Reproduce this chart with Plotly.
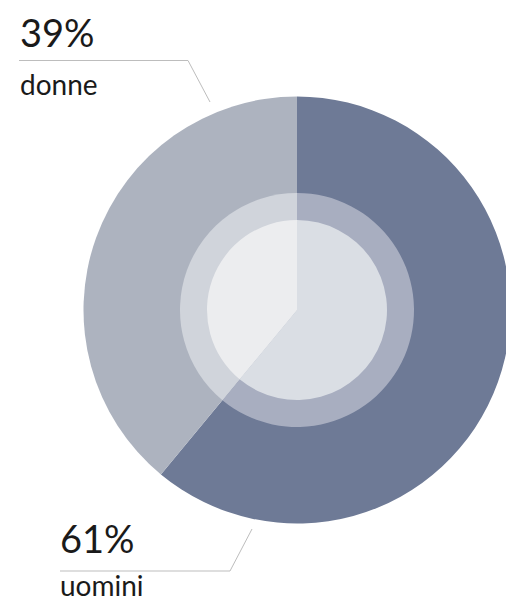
import plotly.graph_objects as go

W, H = 514, 603  # slightly wider than the window: the reference pie runs off the right edge

labels = ["uomini", "donne"]
values = [61, 39]
pct_text = ["61%", "39%"]

outer_colors = ["#6e7a96", "#adb3bf"]
ring_colors = ["#a8aec0", "#d0d4db"]
inner_colors = ["#dadee4", "#ecedef"]

CX, CY = 297, 310  # screen pixel centre


def px(sx, sy):
    return sx / W, (H - sy) / H


def dom(r):
    x0, yc = px(CX - r, CY)
    x1, _ = px(CX + r, CY)
    return dict(x=[x0, x1], y=[yc - r / H, yc + r / H])


fig = go.Figure()
for r, cols in [(213.5, outer_colors), (117, ring_colors), (90, inner_colors)]:
    fig.add_trace(go.Pie(
        labels=labels, values=values, sort=False, direction="clockwise", rotation=0,
        marker=dict(colors=cols, line=dict(width=0)),
        textinfo="none", hoverinfo="skip", showlegend=False,
        domain=dom(r),
    ))

FONT = "Lato"
TXT = "#1a1a1a"

annots = [
    (pct_text[1], 18, 32, 38),
    (labels[1], 18, 84, 28),
    (pct_text[0], 58, 538, 38),
    (labels[0], 58, 585, 28),
]
for t, x, y, s in annots:
    ax, ay = px(x, y)
    fig.add_annotation(text=t, x=ax, y=ay, xref="paper", yref="paper",
                       xanchor="left", yanchor="middle", showarrow=False,
                       font=dict(family=FONT, size=s, color=TXT))

line_style = dict(color="#bdbdbd", width=1)
# leader lines (decoration)
for pts in [[(19, 60.5), (188, 60.5), (210, 102)], [(60, 571), (230, 571), (252, 529)]]:
    for (xa, ya), (xb, yb) in zip(pts[:-1], pts[1:]):
        x0, y0 = px(xa, ya)
        x1, y1 = px(xb, yb)
        fig.add_shape(type="line", xref="paper", yref="paper", x0=x0, y0=y0, x1=x1, y1=y1,
                      line=line_style)

fig.update_layout(width=W, height=H, margin=dict(l=0, r=0, t=0, b=0),
                  paper_bgcolor="white", plot_bgcolor="white")

fig.write_html(
    "out.html",
    config={"displayModeBar": False},
    post_script="document.body.style.margin='0';document.body.style.overflow='hidden';",
)
